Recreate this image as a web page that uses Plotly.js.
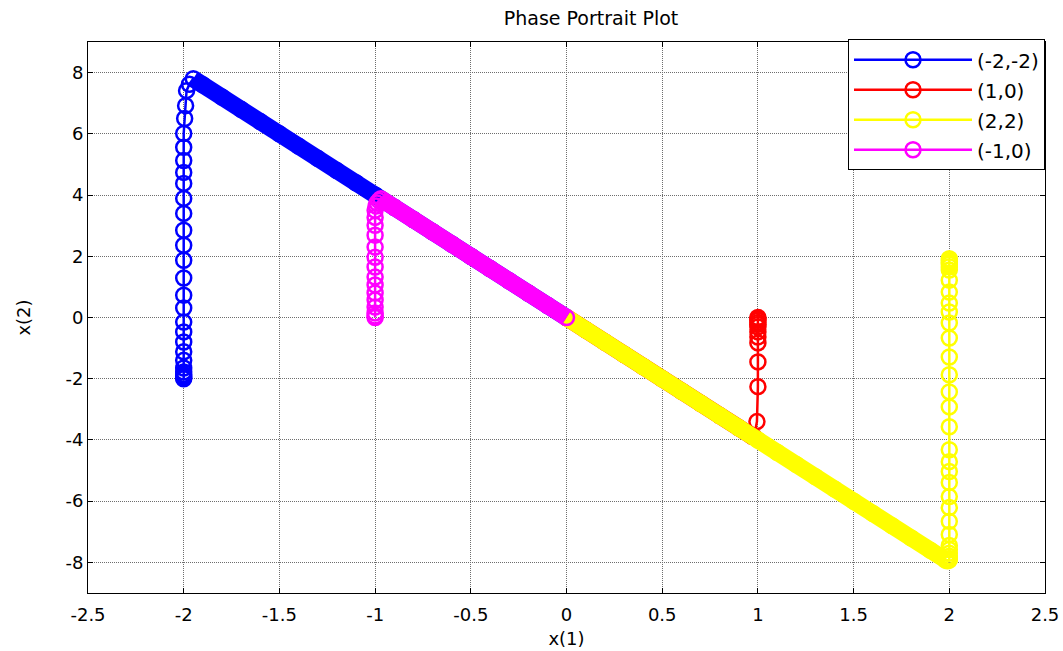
<!DOCTYPE html>
<html>
<head>
<meta charset="utf-8">
<script src="https://cdn.plot.ly/plotly-3.0.1.min.js"></script>
<style>html,body{margin:0;padding:0;background:#fff;}#chart{width:1063px;height:651px;}</style>
</head>
<body>
<div id="chart"></div>
<script>
// ---- data ----
var seriesNames = ["(-2,-2)", "(1,0)", "(2,2)", "(-1,0)"];
var seriesColors = ["#0000ff", "#ff0000", "#ffff00", "#ff00ff"];

// blue: start (-2,-2), rises along x1 = -2, then slides to the origin
var blueRiseX = [-2.00, -2.00, -2.00, -2.00, -2.00, -2.00, -2.00, -2.00, -2.00, -2.00, -2.00, -2.00, -2.00, -2.00, -2.00, -2.00, -2.00, -2.00, -2.00, -2.00, -2.00, -2.00, -2.00, -2.00, -1.995, -1.99, -1.985, -1.97];
var blueRiseY = [-2.00, -1.96, -1.92, -1.86, -1.78, -1.65, -1.40, -1.12, -0.80, -0.47, -0.15, 0.31, 0.73, 1.29, 1.87, 2.36, 2.85, 3.40, 3.89, 4.38, 4.74, 5.13, 5.56, 6.01, 6.50, 6.92, 7.41, 7.62];
var blueSlideX = [-1.95, -1.90, -1.80, -1.70, -1.60, -1.50, -1.40, -1.30, -1.20, -1.10, -1.00, -0.90, -0.80, -0.70, -0.60, -0.50, -0.40, -0.30, -0.20, -0.10, 0.00];
var blueSlideY = [7.80, 7.60, 7.20, 6.80, 6.40, 6.00, 5.60, 5.20, 4.80, 4.40, 4.00, 3.60, 3.20, 2.80, 2.40, 2.00, 1.60, 1.20, 0.80, 0.40, 0.00];

// red: start (1,0), falls along x1 = 1, then slides to the origin
var redRiseX = [1.00, 1.00, 1.00, 1.00, 1.00, 1.00, 1.00, 1.00, 1.00, 1.00, 1.00, 0.995, 0.98];
var redRiseY = [0.00, -0.04, -0.09, -0.16, -0.23, -0.31, -0.47, -0.64, -0.83, -1.45, -2.26, -3.40, -3.90];
var redSlideX = [0.97, 0.90, 0.80, 0.70, 0.60, 0.50, 0.40, 0.30, 0.20, 0.10, 0.00];
var redSlideY = [-3.88, -3.60, -3.20, -2.80, -2.40, -2.00, -1.60, -1.20, -0.80, -0.40, 0.00];

// yellow: start (2,2), falls along x1 = 2, then slides to the origin
var yellowRiseX = [2.00, 2.00, 2.00, 2.00, 2.00, 2.00, 2.00, 2.00, 2.00, 2.00, 2.00, 2.00, 2.00, 2.00, 2.00, 2.00, 2.00, 2.00, 2.00, 2.00, 2.00, 2.00, 2.00, 2.00, 2.00, 2.00, 2.00, 2.00, 2.00, 2.00, 2.00, 1.99];
var yellowRiseY = [1.92, 1.86, 1.80, 1.74, 1.66, 1.55, 1.22, 0.83, 0.47, 0.18, -0.18, -0.67, -1.29, -1.87, -2.43, -2.92, -3.57, -4.32, -4.71, -5.03, -5.39, -5.85, -6.21, -6.66, -7.09, -7.45, -7.58, -7.70, -7.80, -7.87, -7.92, -7.95];
var yellowSlideX = [1.98, 1.90, 1.80, 1.70, 1.60, 1.50, 1.40, 1.30, 1.20, 1.10, 1.00, 0.90, 0.80, 0.70, 0.60, 0.50, 0.40, 0.30, 0.20, 0.10, 0.00];
var yellowSlideY = [-7.92, -7.60, -7.20, -6.80, -6.40, -6.00, -5.60, -5.20, -4.80, -4.40, -4.00, -3.60, -3.20, -2.80, -2.40, -2.00, -1.60, -1.20, -0.80, -0.40, 0.00];

// magenta: start (-1,0), rises along x1 = -1, then slides to the origin
var magentaRiseX = [-1.00, -1.00, -1.00, -1.00, -1.00, -1.00, -1.00, -1.00, -1.00, -1.00, -1.00, -1.00, -1.00, -1.00, -1.00, -0.995, -0.99, -0.98];
var magentaRiseY = [0.00, 0.05, 0.15, 0.34, 0.57, 0.80, 1.06, 1.32, 1.65, 1.97, 2.30, 2.69, 3.01, 3.27, 3.50, 3.64, 3.74, 3.82];
var magentaSlideX = [-0.97, -0.90, -0.80, -0.70, -0.60, -0.50, -0.40, -0.30, -0.20, -0.10, 0.00];
var magentaSlideY = [3.88, 3.60, 3.20, 2.80, 2.40, 2.00, 1.60, 1.20, 0.80, 0.40, 0.00];

var xTickVals = [-2.5, -2, -1.5, -1, -0.5, 0, 0.5, 1, 1.5, 2, 2.5];
var xTickText = ["-2.5", "-2", "-1.5", "-1", "-0.5", "0", "0.5", "1", "1.5", "2", "2.5"];
var yTickVals = [-8, -6, -4, -2, 0, 2, 4, 6, 8];
var yTickText = ["-8", "-6", "-4", "-2", "0", "2", "4", "6", "8"];

// ---- build traces ----
var FONT = "DejaVu Sans, Arial, sans-serif";
var rises = [[blueRiseX, blueRiseY], [redRiseX, redRiseY], [yellowRiseX, yellowRiseY], [magentaRiseX, magentaRiseY]];
var slides = [[blueSlideX, blueSlideY], [redSlideX, redSlideY], [yellowSlideX, yellowSlideY], [magentaSlideX, magentaSlideY]];

var traces = [];
for (var i = 0; i < 4; i++) {
  var xs = rises[i][0].concat(slides[i][0]);
  var ys = rises[i][1].concat(slides[i][1]);
  traces.push({
    type: "scatter", mode: "lines+markers", name: seriesNames[i],
    x: xs, y: ys, legendgroup: "g" + i,
    line: {color: seriesColors[i], width: 2.5},
    marker: {symbol: "circle-open", size: 15, color: seriesColors[i], line: {width: 2.5, color: seriesColors[i]}},
    hoverinfo: "skip"
  });
  // dense sliding part of the trajectory (markers overlap into a solid band)
  traces.push({
    type: "scatter", mode: "lines", showlegend: false, legendgroup: "g" + i,
    x: slides[i][0], y: slides[i][1],
    line: {color: seriesColors[i], width: 17},
    hoverinfo: "skip"
  });
}

var layout = {
  width: 1063, height: 651,
  margin: {l: 88, r: 18, t: 42, b: 58},
  paper_bgcolor: "#ffffff", plot_bgcolor: "#ffffff",
  font: {family: FONT, color: "#000000", size: 16},
  title: {text: "Phase Portrait Plot", font: {family: FONT, size: 19, color: "#000"}, xref: "container", x: 0.556, xanchor: "center", yref: "container", y: 0.972, yanchor: "middle"},
  xaxis: {
    range: [-2.5, 2.5], tickvals: xTickVals, ticktext: xTickText,
    showline: true, linecolor: "#000", linewidth: 1, mirror: "allticks",
    ticks: "inside", ticklen: 5, tickcolor: "#000", tickwidth: 1,
    showgrid: true, gridcolor: "#6e6e6e", gridwidth: 1, griddash: "1px,1px",
    zeroline: false, tickfont: {family: FONT, size: 18, color: "#000"},
    ticklabelstandoff: 5,
    title: {text: "x(1)", font: {family: FONT, size: 18, color: "#000"}, standoff: 8},
    automargin: false
  },
  yaxis: {
    range: [-9, 9], tickvals: yTickVals, ticktext: yTickText,
    showline: true, linecolor: "#000", linewidth: 1, mirror: "allticks",
    ticks: "inside", ticklen: 5, tickcolor: "#000", tickwidth: 1,
    showgrid: true, gridcolor: "#6e6e6e", gridwidth: 1, griddash: "1px,1px",
    zeroline: false, tickfont: {family: FONT, size: 18, color: "#000"},
    title: {text: "x(2)", font: {family: FONT, size: 18, color: "#000"}, standoff: 30},
    automargin: false
  },
  legend: {
    x: 1, xanchor: "right", y: 1.005, yanchor: "top",
    bgcolor: "#ffffff", bordercolor: "#000", borderwidth: 1,
    font: {family: FONT, size: 20, color: "#000"},
    itemwidth: 118, tracegroupgap: 1
  },
  showlegend: true
};

Plotly.newPlot("chart", traces, layout, {displayModeBar: false, staticPlot: true});
</script>
</body>
</html>
